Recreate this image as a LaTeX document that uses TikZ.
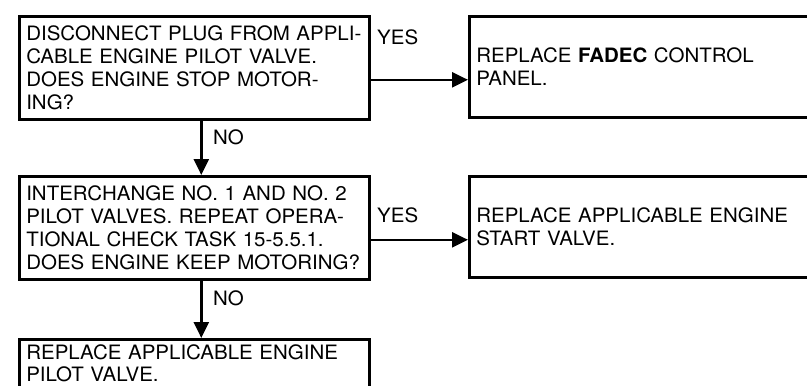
\documentclass[tikz,border=0pt]{standalone}
\usepackage{fontspec}
\setmainfont{TeX Gyre Heros}[FakeStretch=1.035]
\usetikzlibrary{positioning, arrows.meta, calc}

\begin{document}
\begin{tikzpicture}[x=1pt, y=-1pt]
\tikzset{chkbox/.style={draw, rectangle, line width=2.6pt, anchor=north west, minimum width=350pt, minimum height=103pt, text width=336pt, inner xsep=7pt, inner ysep=0pt, align=left, font=\fontsize{19.8}{23.3}\selectfont},
  fixbox/.style={chkbox, minimum width=400pt, text width=386pt, minimum height=101pt},
  flow/.style={-{Triangle[length=16pt, width=15pt]}, line width=2.4pt},
  lbl/.style={anchor=west, inner sep=0pt, font=\fontsize{19.8}{22}\selectfont}}
\useasboundingbox (0,0) rectangle (807,386);
\clip (0,0) rectangle (807,386);
\node[chkbox] (chk1) at (18,15) {DISCONNECT PLUG FROM APPLI-\\CABLE ENGINE PILOT VALVE.\\DOES ENGINE STOP MOTOR-\\ING?};
\node[chkbox] (chk2) at (18,175) {INTERCHANGE NO. 1 AND NO. 2\\PILOT VALVES. REPEAT OPERA-\\TIONAL CHECK TASK 15-5.5.1.\\DOES ENGINE KEEP MOTORING?};
\node[chkbox, minimum height=0pt, text height=14pt, text depth=80pt, inner ysep=6pt, font=\fontsize{19.8}{22.5}\selectfont] (chk3) at (18,338) {REPLACE APPLICABLE ENGINE\\PILOT VALVE.};
\node[fixbox] (fix1) at (468,15) {REPLACE \textbf{FADEC} CONTROL\\PANEL.};
\node[fixbox] (fix2) at (468,175) {REPLACE APPLICABLE ENGINE\\START VALVE.};
% connectors
\draw[flow] ([xshift=7pt]chk1.south) -- ([xshift=7pt]chk2.north);
\draw[flow] ([xshift=7pt]chk2.south) -- ([xshift=7pt]chk3.north);
\draw[flow] ([yshift=-12pt]chk1.east) -- ([yshift=-12pt]chk1.east -| fix1.west);
\draw[flow] ([yshift=-12pt]chk2.east) -- ([yshift=-12pt]chk2.east -| fix2.west);
\node[lbl] (no1) at (213,137) {NO};
\node[lbl] (no2) at (213,298) {NO};
\node[lbl] (yes1) at (377,37) {YES};
\node[lbl] (yes2) at (377,215) {YES};
\end{tikzpicture}
\end{document}
